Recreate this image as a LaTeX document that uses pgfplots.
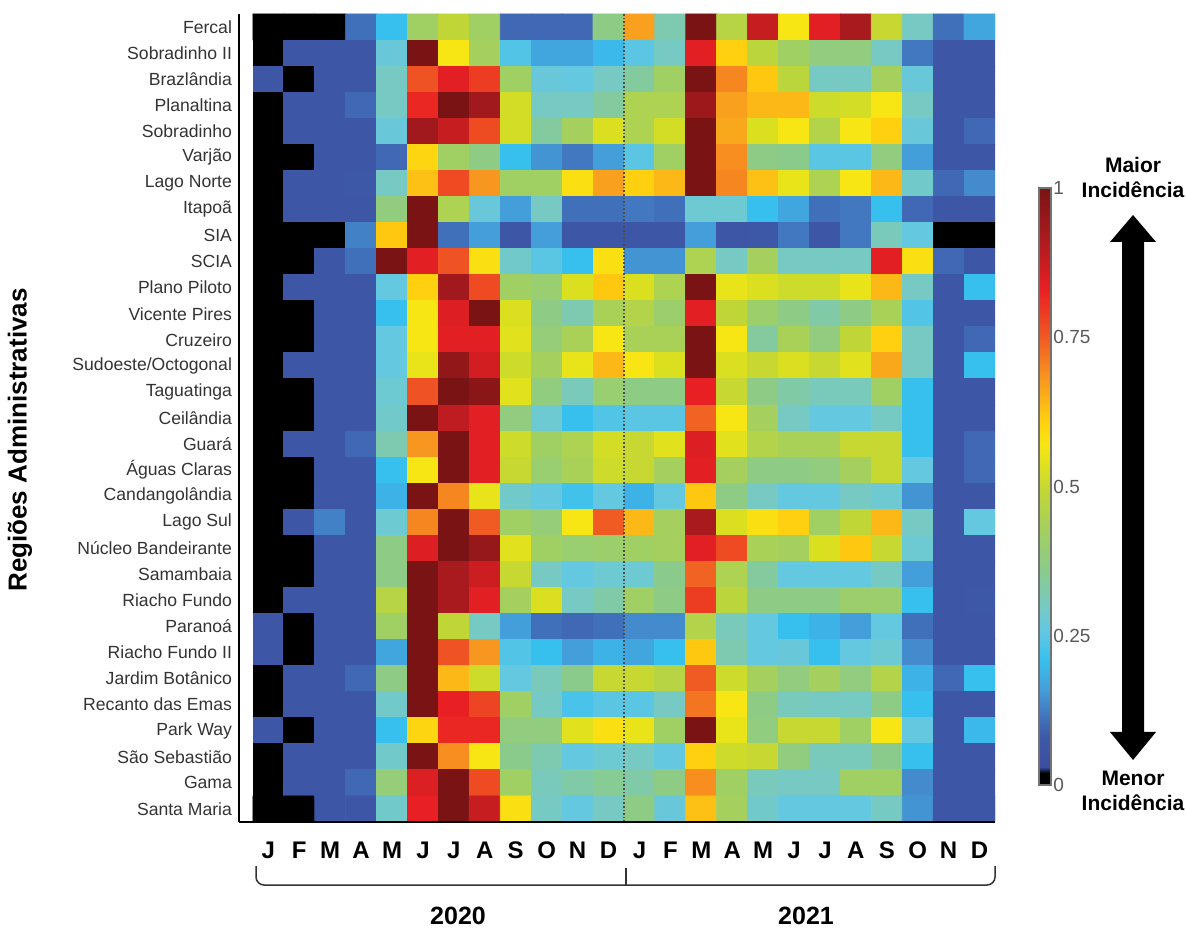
\documentclass[border=0pt]{standalone}
\usepackage{pgfplots}
\pgfplotsset{compat=1.18}
\usepackage{fontspec}
\setmainfont{Liberation Sans}
\pgfplotsset{
 colormap={hm}{rgb255(0cm)=(0,0,0) rgb255(2cm)=(0,0,0) rgb255(3cm)=(60,78,160) rgb255(8cm)=(62,88,168) rgb255(12cm)=(66,120,192) rgb255(16cm)=(68,158,218) rgb255(21cm)=(55,192,238) rgb255(26cm)=(100,200,225) rgb255(30cm)=(118,202,195) rgb255(36cm)=(138,203,140) rgb255(42cm)=(160,207,100) rgb255(49cm)=(192,214,55) rgb255(53cm)=(218,224,32) rgb255(57cm)=(248,230,20) rgb255(61cm)=(255,208,15) rgb255(67cm)=(249,160,30) rgb255(75cm)=(240,90,35) rgb255(83cm)=(233,32,35) rgb255(92cm)=(168,26,30) rgb255(100cm)=(122,20,20)}
}
\begin{document}
\begin{tikzpicture}[x=0.5pt,y=0.5pt]
\useasboundingbox (0,0) rectangle (1186,930);
\begin{axis}[
 at={(119.5pt,54pt)}, anchor=south west,
 scale only axis, width=378pt, height=404pt,
 xmin=0.05, xmax=24.5, ymin=0.5, ymax=31.5,
 axis x line*=bottom, axis y line*=left,
 axis line style={line width=0.9pt, -},
 axis on top,
 xtick={1,...,24},
 xticklabels={J,F,M,A,M,J,J,A,S,O,N,D,J,F,M,A,M,J,J,A,S,O,N,D},
 ytick={1,...,31},
 yticklabels={Santa Maria,Gama,São Sebastião,Park Way,Recanto das Emas,Jardim Botânico,Riacho Fundo II,Paranoá,Riacho Fundo,Samambaia,Núcleo Bandeirante,Lago Sul,Candangolândia,Águas Claras,Guará,Ceilândia,Taguatinga,Sudoeste/Octogonal,Cruzeiro,Vicente Pires,Plano Piloto,SCIA,SIA,Itapoã,Lago Norte,Varjão,Sobradinho,Planaltina,Brazlândia,Sobradinho II,Fercal},
 major tick length=0pt,
 xticklabel style={font=\bfseries\fontsize{12}{12}\selectfont, yshift=-6.5pt},
 yticklabel style={font=\fontsize{8.8}{9}\selectfont, text=black!80},
 colormap name=hm, point meta min=0, point meta max=1,
 colorbar,
 colorbar style={
  at={(parent axis.north east)}, anchor=north west, xshift=13.5pt, yshift=-87pt,
  scale only axis, width=6pt, height=298.5pt,
  ytick={0,0.25,0.5,0.75,1}, yticklabels={0,0.25,0.5,0.75,1},
  /pgf/number format/assume math mode=true,
  yticklabel style={font=\fontsize{9.5}{10}\selectfont, text=black!65, inner sep=1pt},
  major tick length=0pt,
  axis line style={draw=black!55, line width=0.6pt},
 },
]
\addplot[matrix plot*, mesh/cols=24, point meta=explicit] table[row sep=\\, x expr={mod(\coordindex,24)+1}, y expr={31-floor((\coordindex+0.5)/24)}, meta=c] {
c\\
0\\ 0\\ 0\\ 0.11\\ 0.21\\ 0.42\\ 0.49\\ 0.42\\ 0.10\\ 0.10\\ 0.10\\ 0.37\\ 0.67\\ 0.32\\ 1\\ 0.47\\ 0.88\\ 0.57\\ 0.84\\ 0.92\\ 0.50\\ 0.30\\ 0.11\\ 0.17\\
0\\ 0.07\\ 0.07\\ 0.07\\ 0.27\\ 1\\ 0.57\\ 0.43\\ 0.24\\ 0.17\\ 0.17\\ 0.20\\ 0.25\\ 0.30\\ 0.84\\ 0.61\\ 0.48\\ 0.42\\ 0.38\\ 0.38\\ 0.30\\ 0.12\\ 0.07\\ 0.07\\
0.07\\ 0\\ 0.07\\ 0.07\\ 0.30\\ 0.76\\ 0.84\\ 0.79\\ 0.42\\ 0.27\\ 0.26\\ 0.30\\ 0.34\\ 0.42\\ 1\\ 0.70\\ 0.62\\ 0.48\\ 0.30\\ 0.30\\ 0.43\\ 0.27\\ 0.07\\ 0.07\\
0\\ 0.07\\ 0.07\\ 0.10\\ 0.30\\ 0.82\\ 1\\ 0.93\\ 0.52\\ 0.30\\ 0.30\\ 0.34\\ 0.45\\ 0.45\\ 0.94\\ 0.67\\ 0.64\\ 0.64\\ 0.51\\ 0.52\\ 0.57\\ 0.30\\ 0.07\\ 0.07\\
0\\ 0.07\\ 0.07\\ 0.07\\ 0.27\\ 0.93\\ 0.88\\ 0.77\\ 0.52\\ 0.34\\ 0.43\\ 0.53\\ 0.45\\ 0.52\\ 1\\ 0.66\\ 0.53\\ 0.57\\ 0.46\\ 0.57\\ 0.61\\ 0.27\\ 0.07\\ 0.10\\
0\\ 0\\ 0.07\\ 0.07\\ 0.10\\ 0.60\\ 0.42\\ 0.37\\ 0.21\\ 0.15\\ 0.12\\ 0.16\\ 0.25\\ 0.42\\ 1\\ 0.69\\ 0.37\\ 0.36\\ 0.25\\ 0.25\\ 0.38\\ 0.16\\ 0.07\\ 0.07\\
0\\ 0.07\\ 0.07\\ 0.08\\ 0.30\\ 0.63\\ 0.77\\ 0.68\\ 0.42\\ 0.42\\ 0.58\\ 0.67\\ 0.61\\ 0.64\\ 1\\ 0.70\\ 0.63\\ 0.55\\ 0.45\\ 0.57\\ 0.64\\ 0.29\\ 0.10\\ 0.14\\
0\\ 0.07\\ 0.07\\ 0.07\\ 0.38\\ 1\\ 0.45\\ 0.27\\ 0.16\\ 0.30\\ 0.11\\ 0.11\\ 0.12\\ 0.11\\ 0.28\\ 0.28\\ 0.21\\ 0.17\\ 0.11\\ 0.12\\ 0.21\\ 0.10\\ 0.07\\ 0.07\\
0\\ 0\\ 0\\ 0.13\\ 0.62\\ 1\\ 0.11\\ 0.16\\ 0.07\\ 0.16\\ 0.07\\ 0.07\\ 0.07\\ 0.07\\ 0.16\\ 0.07\\ 0.08\\ 0.12\\ 0.07\\ 0.12\\ 0.31\\ 0.26\\ 0\\ 0\\
0\\ 0\\ 0.07\\ 0.11\\ 1\\ 0.84\\ 0.76\\ 0.58\\ 0.29\\ 0.25\\ 0.21\\ 0.58\\ 0.15\\ 0.15\\ 0.45\\ 0.30\\ 0.43\\ 0.30\\ 0.30\\ 0.30\\ 0.84\\ 0.58\\ 0.10\\ 0.07\\
0\\ 0.07\\ 0.07\\ 0.07\\ 0.26\\ 0.61\\ 0.93\\ 0.77\\ 0.42\\ 0.40\\ 0.53\\ 0.62\\ 0.53\\ 0.45\\ 1\\ 0.55\\ 0.53\\ 0.51\\ 0.51\\ 0.55\\ 0.64\\ 0.30\\ 0.07\\ 0.21\\
0\\ 0\\ 0.07\\ 0.07\\ 0.21\\ 0.57\\ 0.85\\ 1\\ 0.53\\ 0.37\\ 0.32\\ 0.44\\ 0.46\\ 0.41\\ 0.84\\ 0.49\\ 0.41\\ 0.37\\ 0.33\\ 0.37\\ 0.44\\ 0.24\\ 0.07\\ 0.07\\
0\\ 0\\ 0.07\\ 0.07\\ 0.26\\ 0.57\\ 0.84\\ 0.84\\ 0.54\\ 0.39\\ 0.44\\ 0.57\\ 0.44\\ 0.44\\ 1\\ 0.57\\ 0.34\\ 0.44\\ 0.38\\ 0.49\\ 0.61\\ 0.30\\ 0.07\\ 0.10\\
0\\ 0.07\\ 0.07\\ 0.07\\ 0.26\\ 0.55\\ 0.96\\ 0.86\\ 0.51\\ 0.43\\ 0.55\\ 0.64\\ 0.57\\ 0.53\\ 1\\ 0.53\\ 0.50\\ 0.53\\ 0.50\\ 0.54\\ 0.66\\ 0.30\\ 0.07\\ 0.21\\
0\\ 0\\ 0.07\\ 0.07\\ 0.28\\ 0.76\\ 1\\ 0.97\\ 0.54\\ 0.38\\ 0.31\\ 0.40\\ 0.37\\ 0.37\\ 0.83\\ 0.50\\ 0.37\\ 0.33\\ 0.31\\ 0.31\\ 0.42\\ 0.21\\ 0.07\\ 0.07\\
0\\ 0\\ 0.07\\ 0.07\\ 0.29\\ 1\\ 0.89\\ 0.84\\ 0.38\\ 0.28\\ 0.21\\ 0.24\\ 0.25\\ 0.25\\ 0.74\\ 0.57\\ 0.43\\ 0.30\\ 0.26\\ 0.26\\ 0.30\\ 0.21\\ 0.07\\ 0.07\\
0\\ 0.07\\ 0.07\\ 0.10\\ 0.32\\ 0.68\\ 1\\ 0.84\\ 0.51\\ 0.42\\ 0.45\\ 0.52\\ 0.50\\ 0.54\\ 0.85\\ 0.54\\ 0.46\\ 0.44\\ 0.44\\ 0.50\\ 0.50\\ 0.21\\ 0.07\\ 0.10\\
0\\ 0\\ 0.07\\ 0.07\\ 0.21\\ 0.57\\ 1\\ 0.84\\ 0.50\\ 0.40\\ 0.44\\ 0.51\\ 0.50\\ 0.43\\ 0.84\\ 0.43\\ 0.37\\ 0.37\\ 0.38\\ 0.43\\ 0.50\\ 0.26\\ 0.07\\ 0.10\\
0\\ 0\\ 0.07\\ 0.07\\ 0.19\\ 1\\ 0.70\\ 0.55\\ 0.29\\ 0.26\\ 0.22\\ 0.26\\ 0.19\\ 0.26\\ 0.62\\ 0.37\\ 0.30\\ 0.26\\ 0.26\\ 0.30\\ 0.28\\ 0.15\\ 0.07\\ 0.07\\
0\\ 0.07\\ 0.13\\ 0.07\\ 0.28\\ 0.70\\ 1\\ 0.75\\ 0.42\\ 0.39\\ 0.57\\ 0.75\\ 0.64\\ 0.43\\ 0.92\\ 0.53\\ 0.58\\ 0.61\\ 0.42\\ 0.49\\ 0.64\\ 0.30\\ 0.07\\ 0.26\\
0\\ 0\\ 0.07\\ 0.07\\ 0.37\\ 0.85\\ 1\\ 0.95\\ 0.54\\ 0.42\\ 0.40\\ 0.41\\ 0.42\\ 0.43\\ 0.84\\ 0.77\\ 0.44\\ 0.43\\ 0.53\\ 0.62\\ 0.50\\ 0.28\\ 0.07\\ 0.07\\
0\\ 0\\ 0.07\\ 0.07\\ 0.37\\ 1\\ 0.92\\ 0.87\\ 0.50\\ 0.30\\ 0.26\\ 0.28\\ 0.28\\ 0.36\\ 0.74\\ 0.45\\ 0.34\\ 0.26\\ 0.26\\ 0.26\\ 0.30\\ 0.16\\ 0.07\\ 0.07\\
0\\ 0.07\\ 0.07\\ 0.07\\ 0.47\\ 1\\ 0.92\\ 0.84\\ 0.43\\ 0.53\\ 0.30\\ 0.33\\ 0.42\\ 0.37\\ 0.79\\ 0.48\\ 0.37\\ 0.37\\ 0.37\\ 0.41\\ 0.41\\ 0.21\\ 0.07\\ 0.08\\
0.07\\ 0\\ 0.07\\ 0.07\\ 0.42\\ 1\\ 0.49\\ 0.30\\ 0.16\\ 0.11\\ 0.10\\ 0.11\\ 0.14\\ 0.14\\ 0.46\\ 0.31\\ 0.26\\ 0.21\\ 0.19\\ 0.16\\ 0.26\\ 0.11\\ 0.07\\ 0.07\\
0.07\\ 0\\ 0.07\\ 0.07\\ 0.17\\ 1\\ 0.76\\ 0.68\\ 0.24\\ 0.21\\ 0.16\\ 0.19\\ 0.17\\ 0.21\\ 0.62\\ 0.32\\ 0.26\\ 0.27\\ 0.21\\ 0.26\\ 0.28\\ 0.14\\ 0.07\\ 0.07\\
0\\ 0.07\\ 0.07\\ 0.10\\ 0.37\\ 1\\ 0.64\\ 0.51\\ 0.26\\ 0.31\\ 0.36\\ 0.50\\ 0.50\\ 0.47\\ 0.75\\ 0.51\\ 0.43\\ 0.38\\ 0.43\\ 0.38\\ 0.46\\ 0.19\\ 0.10\\ 0.21\\
0\\ 0.07\\ 0.07\\ 0.07\\ 0.29\\ 1\\ 0.83\\ 0.78\\ 0.42\\ 0.30\\ 0.23\\ 0.25\\ 0.25\\ 0.30\\ 0.72\\ 0.57\\ 0.37\\ 0.31\\ 0.30\\ 0.30\\ 0.37\\ 0.21\\ 0.07\\ 0.07\\
0.07\\ 0\\ 0.07\\ 0.07\\ 0.21\\ 0.60\\ 0.82\\ 0.82\\ 0.38\\ 0.38\\ 0.54\\ 0.58\\ 0.55\\ 0.42\\ 1\\ 0.55\\ 0.38\\ 0.50\\ 0.50\\ 0.42\\ 0.57\\ 0.26\\ 0.07\\ 0.20\\
0\\ 0.07\\ 0.07\\ 0.07\\ 0.29\\ 1\\ 0.69\\ 0.57\\ 0.36\\ 0.32\\ 0.26\\ 0.28\\ 0.30\\ 0.26\\ 0.61\\ 0.51\\ 0.50\\ 0.38\\ 0.31\\ 0.31\\ 0.36\\ 0.21\\ 0.07\\ 0.07\\
0\\ 0.07\\ 0.07\\ 0.10\\ 0.39\\ 0.85\\ 1\\ 0.77\\ 0.42\\ 0.31\\ 0.33\\ 0.35\\ 0.33\\ 0.37\\ 0.69\\ 0.42\\ 0.31\\ 0.30\\ 0.30\\ 0.42\\ 0.42\\ 0.14\\ 0.07\\ 0.07\\
0\\ 0\\ 0.07\\ 0.07\\ 0.29\\ 0.83\\ 1\\ 0.88\\ 0.58\\ 0.30\\ 0.26\\ 0.30\\ 0.37\\ 0.27\\ 0.63\\ 0.43\\ 0.29\\ 0.26\\ 0.26\\ 0.26\\ 0.30\\ 0.15\\ 0.07\\ 0.07\\
};
\draw[densely dotted, line width=0.8pt, black!70] (axis cs:12.5,0.5) -- (axis cs:12.5,31.5);
\end{axis}
\node[rotate=90, font=\bfseries\fontsize{13}{13}\selectfont] at (20,490) {Regiões Administrativas};
\draw[line width=0.75pt, black!80, rounded corners=4pt] (256,64) -- (256,45) -- (995,45) -- (995,64);
\draw[line width=0.75pt, black!80] (626,45) -- (626,62);
\node[font=\bfseries\fontsize{12.5}{12.5}\selectfont] at (458,14) {2020};
\node[font=\bfseries\fontsize{12.5}{12.5}\selectfont] at (806,14) {2021};
\fill[black] (1133,715) -- (1156,688) -- (1144,688) -- (1144,198) -- (1156,198) -- (1133,170) -- (1110,198) -- (1122,198) -- (1122,688) -- (1110,688) -- cycle;
\node[font=\bfseries\fontsize{10.5}{10.5}\selectfont] at (1133,765) {Maior};
\node[font=\bfseries\fontsize{10.5}{10.5}\selectfont] at (1133,740) {Incidência};
\node[font=\bfseries\fontsize{10.5}{10.5}\selectfont] at (1133,152) {Menor};
\node[font=\bfseries\fontsize{10.5}{10.5}\selectfont] at (1133,127) {Incidência};
\end{tikzpicture}
\end{document}
